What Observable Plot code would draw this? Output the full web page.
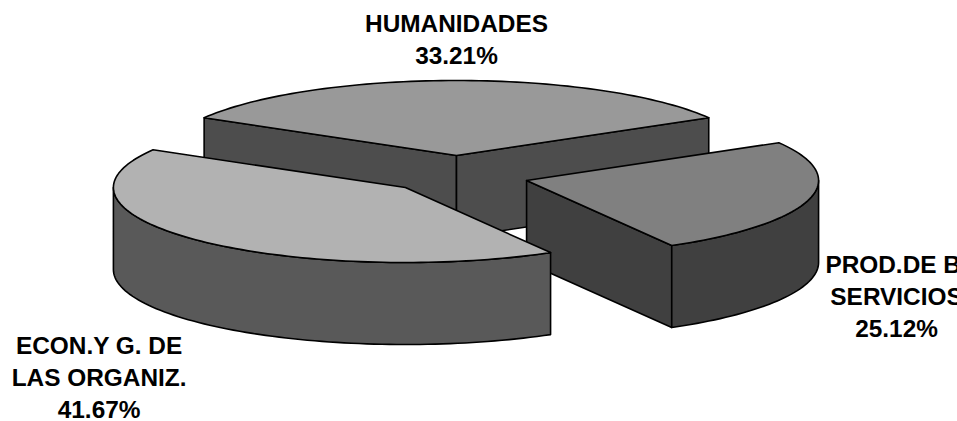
<!DOCTYPE html>
<html><head><meta charset="utf-8">
<style>html,body{margin:0;padding:0;background:#fff;overflow:hidden}svg{display:block}</style>
<script src="https://cdn.jsdelivr.net/npm/d3@7"></script>
<script src="https://cdn.jsdelivr.net/npm/@observablehq/plot@0.6"></script>
</head><body><div id="chart"></div>
<script>
const categories = ["HUMANIDADES", "PROD.DE B.\nSERVICIOS", "ECON.Y G. DE\nLAS ORGANIZ."];
const shares = [33.21, 25.12, 41.67];

// Style and layout
const topFills = ["#999999", "#808080", "#b2b2b2"];
const wallFills = ["#4d4d4d", "#404040", "#595959"];
const explodeX = [0, 0.24, -0.175];
const explodeY = [0, -0.333, -0.427];
const labelX = [0, 1.507, -1.224];
const labelY = [1.947, -1.267, -2.347];
const W = 957, H = 421;
const cx = 456, cy = 155, rx = 292, ry = 75, depthPx = 82;
const depth = depthPx / ry;
const startDeg = 149.8;

// Pie geometry in unit-radius coordinates, derived from the shares
const rad = d => d * Math.PI / 180;
const rim = (a0, a1) => {
  const n = Math.max(2, Math.ceil(Math.abs(a1 - a0) / 1.5));
  return d3.range(n + 1).map(i => a0 + (a1 - a0) * i / n);
};
const polys = [];
const add = (id, fill, pts) => pts.forEach(p => polys.push({id, fill, x: p[0], y: p[1]}));
let acc = startDeg;
shares.forEach((s, i) => {
  const a0 = acc, a1 = acc - s * 3.6;
  acc = a1;
  const ox = explodeX[i], oy = explodeY[i];
  const pt = (a, d = 0) => [ox + Math.cos(rad(a)), oy + Math.sin(rad(a)) - d];
  const apex = (d = 0) => [ox, oy - d];
  const wall = wallFills[i];
  // inner walls: drawn only where they face the viewer
  if (Math.cos(rad(a0)) < 0) add(`${i}-w0`, wall, [apex(), pt(a0), pt(a0, depth), apex(depth)]);
  if (Math.cos(rad(a1)) > 0) add(`${i}-w1`, wall, [apex(), pt(a1), pt(a1, depth), apex(depth)]);
  // outer wall: front half of the rim
  const lo = Math.min(a0, a1), hi = Math.max(a0, a1);
  const fa = Math.max(lo, -180), fb = Math.min(hi, 0);
  if (fb > fa) {
    const arc = rim(fa, fb);
    add(`${i}-o`, wall, [...arc.map(a => pt(a)), ...arc.slice().reverse().map(a => pt(a, depth))]);
  }
  add(`${i}-t`, topFills[i], [apex(), ...rim(a0, a1).map(a => pt(a))]);
});

const labels = categories.map((c, i) => ({
  text: `${c}\n${shares[i].toFixed(2)}%`, x: labelX[i], y: labelY[i]
}));

const chart = Plot.plot({
  width: W, height: H, margin: 0,
  x: {type: "linear", domain: [-cx / rx, (W - cx) / rx], range: [0, W], axis: null},
  y: {type: "linear", domain: [cy / ry, (cy - H) / ry], range: [0, H], axis: null},
  style: {background: "#fff"},
  marks: [
    Plot.line(polys, {
      x: "x", y: "y", z: "id", fill: "fill", stroke: "#000", strokeWidth: 1.6,
      strokeLinejoin: "round", curve: "linear-closed"
    }),
    Plot.text(labels, {
      x: "x", y: "y", text: "text", textAnchor: "middle", lineAnchor: "top",
      fontFamily: "Liberation Sans", fontWeight: "bold", fontSize: 24.4, lineHeight: 1.311, fill: "#000"
    })
  ]
});
document.getElementById("chart").append(chart);
</script></body></html>
